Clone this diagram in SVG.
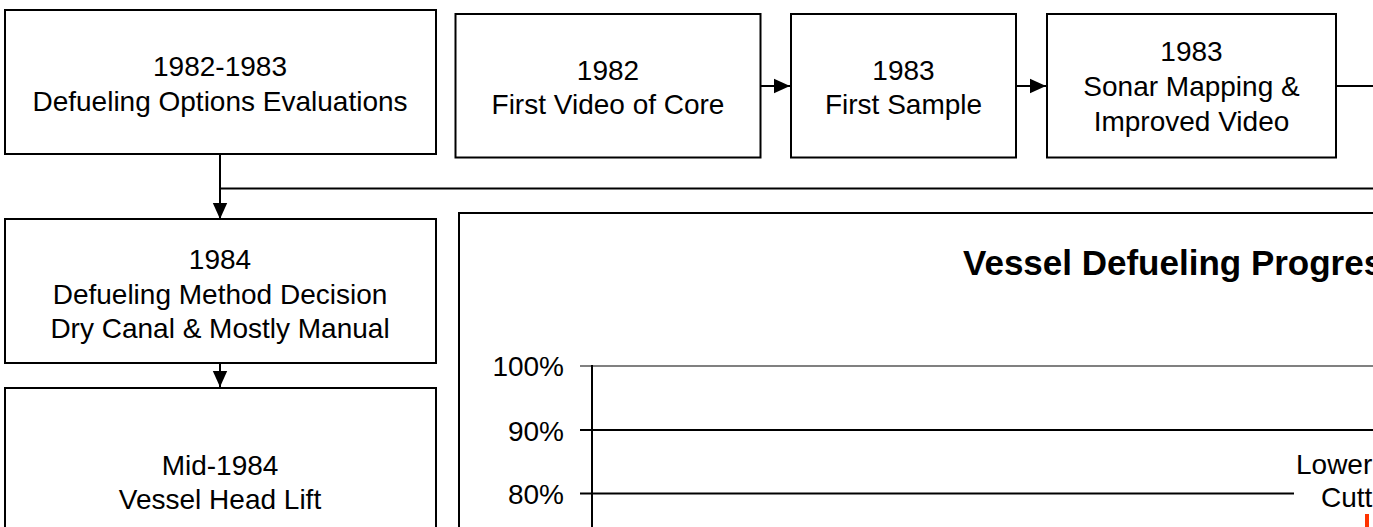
<svg xmlns="http://www.w3.org/2000/svg" width="1373" height="527" viewBox="0 0 1373 527">
  <style>
    .box { fill: #ffffff; stroke: #000000; stroke-width: 2; }
    .lbl { font-family: "Liberation Sans", Arial, sans-serif; font-size: 28px; fill: #000000; text-anchor: middle; }
    .axis { font-family: "Liberation Sans", Arial, sans-serif; font-size: 28px; fill: #000000; text-anchor: end; }
    .note { font-family: "Liberation Sans", Arial, sans-serif; font-size: 28px; fill: #000000; }
    .title { font-family: "Liberation Sans", Arial, sans-serif; font-size: 35px; font-weight: bold; fill: #000000; }
    .wire { fill: none; stroke: #000000; stroke-width: 2; }
    .grid { fill: none; stroke: #000000; stroke-width: 2; }
  </style>
  <defs>
    <marker id="arrow" viewBox="0 0 10 10" refX="10" refY="5" markerWidth="8" markerHeight="8" orient="auto" markerUnits="strokeWidth">
      <path d="M0,0.5 L10,5 L0,9.5 Z" fill="#000000"/>
    </marker>
  </defs>

  <rect width="1373" height="527" fill="#ffffff"/>

  <!-- connectors -->
  <g id="connectors">
    <line class="wire" x1="220" y1="154" x2="220" y2="219" marker-end="url(#arrow)"/>
    <line class="wire" x1="220" y1="188.5" x2="1373" y2="188.5"/>
    <line class="wire" x1="220" y1="363" x2="220" y2="387" marker-end="url(#arrow)"/>
    <line class="wire" x1="760" y1="86" x2="790" y2="86" marker-end="url(#arrow)"/>
    <line class="wire" x1="1016" y1="86" x2="1046" y2="86" marker-end="url(#arrow)"/>
    <line class="wire" x1="1336" y1="86" x2="1373" y2="86"/>
  </g>

  <g id="n-options">
    <rect class="box" x="5" y="10" width="431" height="144"/>
    <text class="lbl" x="220" y="76">1982-1983</text>
    <text class="lbl" x="220" y="111">Defueling Options Evaluations</text>
  </g>

  <g id="n-video">
    <rect class="box" x="455.5" y="14" width="305" height="143.5"/>
    <text class="lbl" x="608" y="80">1982</text>
    <text class="lbl" x="608" y="114">First Video of Core</text>
  </g>

  <g id="n-sample">
    <rect class="box" x="791" y="14" width="225" height="143.5"/>
    <text class="lbl" x="903.5" y="80">1983</text>
    <text class="lbl" x="903.5" y="114">First Sample</text>
  </g>

  <g id="n-sonar">
    <rect class="box" x="1047" y="14" width="289" height="143.5"/>
    <text class="lbl" x="1191.5" y="61">1983</text>
    <text class="lbl" x="1191.5" y="96">Sonar Mapping &amp;</text>
    <text class="lbl" x="1191.5" y="131">Improved Video</text>
  </g>

  <g id="n-decision">
    <rect class="box" x="5" y="219" width="431" height="144"/>
    <text class="lbl" x="220" y="269">1984</text>
    <text class="lbl" x="220" y="304">Defueling Method Decision</text>
    <text class="lbl" x="220" y="338">Dry Canal &amp; Mostly Manual</text>
  </g>

  <g id="n-headlift">
    <rect class="box" x="5" y="388" width="431" height="160"/>
    <text class="lbl" x="220" y="475">Mid-1984</text>
    <text class="lbl" x="220" y="509">Vessel Head Lift</text>
  </g>

  <!-- progress chart -->
  <g id="n-chart">
    <rect class="box" x="459" y="213" width="930" height="340"/>
    <text class="title" x="963" y="275">Vessel Defueling Progres</text>
    <line x1="580" y1="366" x2="1373" y2="366" stroke="#808080" stroke-width="2"/>
    <line class="grid" x1="580" y1="430" x2="1373" y2="430"/>
    <line class="grid" x1="580" y1="493.5" x2="1294" y2="493.5"/>
    <line class="grid" x1="592" y1="365" x2="592" y2="527"/>
    <text class="axis" x="564" y="376">100%</text>
    <text class="axis" x="564" y="441">90%</text>
    <text class="axis" x="564" y="504">80%</text>
    <text class="note" x="1296" y="474">Lower</text>
    <text class="note" x="1321" y="507">Cutt</text>
    <rect x="1365" y="514" width="4" height="13" fill="#ff3300"/>
  </g>
</svg>
